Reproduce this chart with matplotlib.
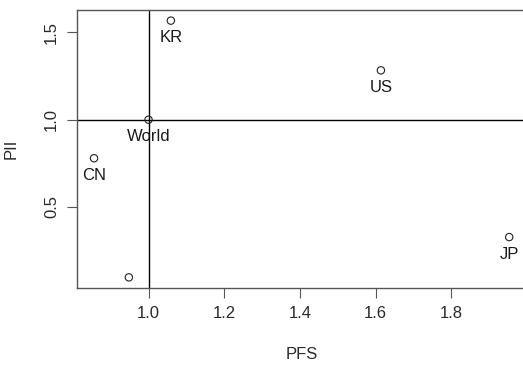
import matplotlib

matplotlib.use("Agg")

import matplotlib.pyplot as plt

# values
countries = ["KR", "US", "World", "CN", "", "JP"]
pfs = [1.059, 1.614, 1.0, 0.856, 0.948, 1.953]
pii = [1.568, 1.283, 1.0, 0.779, 0.096, 0.327]

x_ticks = [1.0, 1.2, 1.4, 1.6, 1.8]
y_ticks = [0.5, 1.0, 1.5]

plt.rcParams["font.family"] = ["Liberation Sans", "DejaVu Sans"]

fig = plt.figure(figsize=(5.23, 3.65), dpi=100)
ax = fig.add_axes([77 / 523, 77 / 365, 450 / 523, 278 / 365])

ax.scatter(pfs, pii, s=28, facecolors="none", edgecolors="#222222", linewidths=0.8, zorder=3)
for name, x, y in zip(countries, pfs, pii):
    if name:
        ax.annotate(name, (x, y), xytext=(0, -7), textcoords="offset points",
                    ha="center", va="top", fontsize=12, color="#1a1a1a")

ax.axvline(1.0, color="black", linewidth=1.0)
ax.axhline(1.0, color="black", linewidth=1.0)

ax.set_xlim(0.811, 2.0)
ax.set_ylim(0.035, 1.629)
ax.set_xticks(x_ticks)
ax.set_xticklabels([f"{v:.1f}" for v in x_ticks])
ax.set_yticks(y_ticks)
ax.set_yticklabels([f"{v:.1f}" for v in y_ticks], rotation=90, va="center")

ax.tick_params(direction="out", length=7, width=0.8, colors="#555555",
               labelcolor="#2a2a2a", labelsize=12, pad=6)
for spine in ax.spines.values():
    spine.set_color("#555555")
    spine.set_linewidth(1.0)

ax.set_xlabel("PFS", fontsize=12, color="#2a2a2a", labelpad=19)
ax.set_ylabel("PII", fontsize=12, color="#2a2a2a", labelpad=18)

fig.savefig("out.png", dpi=100)
